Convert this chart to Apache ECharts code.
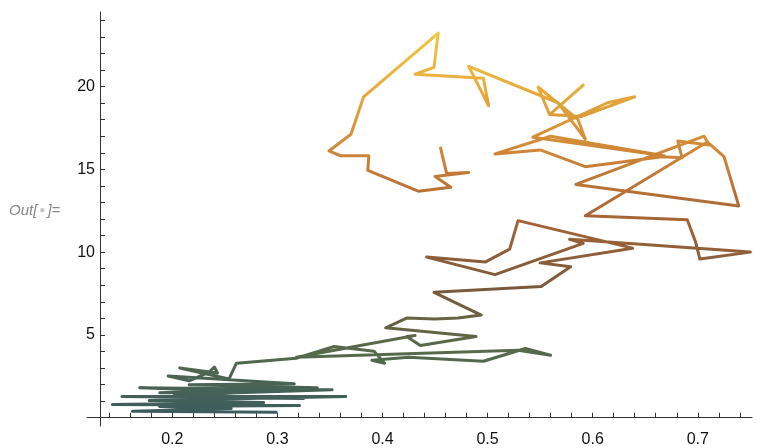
<!DOCTYPE html>
<html><head><meta charset="utf-8">
<script src="https://cdn.jsdelivr.net/npm/echarts@6/dist/echarts.min.js"></script>
<style>html,body{margin:0;padding:0;background:#fff}#c{width:760px;height:448px}</style>
</head><body><div id="c"></div>
<script>
const xs = [0.300,0.162,0.256,0.188,0.321,0.143,0.287,0.178,0.365,0.152,0.325,0.202,0.352,0.169,0.278,0.188,0.338,0.216,0.316,0.196,0.216,0.235,0.240,0.243,0.207,0.254,
0.261,0.318,0.354,0.392,0.402,0.390,0.425,0.496,0.536,0.560,0.529,0.318,0.384,0.431,0.423,0.436,0.489,0.403,0.423,0.450,0.472,0.494,0.449,
0.551,0.579,0.550,0.638,0.529,0.521,0.498,0.442,0.507,0.591,0.578,0.750,0.702,0.698,0.690,0.593,
0.709,0.725,0.739,0.584,0.706,0.711,0.681,0.685,0.666,0.593,0.550,0.507,0.560,0.668,0.543,0.614,0.640,0.589,0.559,0.591,0.559,0.548,0.586,0.593,0.567,
0.482,0.501,0.496,0.431,0.449,0.453,0.382,0.370,0.349,0.360,0.387,0.386,0.434,0.465,0.450,0.482,0.461,0.455];
const ys = [0.33,0.39,0.56,0.68,0.74,0.80,0.92,1.04,1.28,1.28,1.16,1.39,1.69,1.81,1.57,1.51,1.81,1.99,2.05,2.52,2.23,2.76,3.06,2.70,3.00,2.34,
3.29,3.59,4.30,4.01,3.29,3.47,3.65,3.41,4.18,3.77,4.07,3.65,4.42,4.96,4.90,4.36,4.90,5.43,6.02,5.96,6.02,6.20,7.57,
7.92,9.11,9.35,10.24,11.90,10.18,9.41,9.70,8.64,10.53,10.77,10.00,9.58,10.59,11.96,12.20,
16.65,15.76,12.79,14.09,17.00,16.47,16.71,15.70,15.76,15.16,16.17,15.93,17.00,15.82,16.94,19.02,19.38,18.19,18.31,20.09,18.31,19.97,18.01,16.82,19.02,
21.22,18.84,20.50,20.74,21.16,23.23,19.38,17.12,16.11,15.82,15.82,14.93,13.68,13.92,14.57,14.81,14.75,16.35];
const xTicks = [0.14,0.16,0.18,0.2,0.22,0.24,0.26,0.28,0.3,0.32,0.34,0.36,0.38,0.4,0.42,0.44,0.46,0.48,0.5,0.52,0.54,0.56,0.58,0.6,0.62,0.64,0.66,0.68,0.7,0.72,0.74];
const xLabels = [0.2,0.3,0.4,0.5,0.6,0.7];
const yTicks = [1,2,3,4,5,6,7,8,9,10,11,12,13,14,15,16,17,18,19,20,21,22,23,24];
const yLabels = [5,10,15,20];
const colorStops = ['#3b5b5f','#566a4b','#7a5a3b','#a36236','#cc8236','#e6a93a','#f4c842'];

const data = xs.map((x,i)=>[x, ys[i]]);
const chart = echarts.init(document.getElementById('c'), null, {renderer:'canvas'});
const lblFont = {fontFamily:'Liberation Sans, Arial, sans-serif', fontSize:16, color:'#111'};
chart.setOption({
  animation:false,
  grid:{left:87,right:8,top:12,bottom:16,containLabel:false},
  xAxis:{type:'value',min:0.1188,max:0.7516,
    axisLine:{onZero:true,lineStyle:{color:'#333',width:1}},
    axisTick:{inside:true,length:5,customValues:xTicks,lineStyle:{color:'#333'}},
    axisLabel:Object.assign({customValues:xLabels,margin:6,formatter:v=>String(+v.toFixed(2))},lblFont),
    splitLine:{show:false}},
  yAxis:{type:'value',min:-0.5,max:24.5,offset:-13,
    axisLine:{show:true,onZero:false,lineStyle:{color:'#333',width:1}},
    axisTick:{show:true,inside:true,length:5,customValues:yTicks,lineStyle:{color:'#333'}},
    axisLabel:Object.assign({customValues:yLabels,margin:5},lblFont),
    splitLine:{show:false}},
  visualMap:{show:false,type:'continuous',dimension:1,seriesIndex:0,min:0,max:23.5,inRange:{color:colorStops}},
  series:[{type:'line',data:data,showSymbol:false,symbol:'none',lineStyle:{width:3,join:'round'},clip:false}],
  graphic:[{type:'text',left:9,top:203,style:{
    text:'Out[{d|●}]=',
    font:'italic 15px Liberation Sans, Arial, sans-serif',
    fill:'#888',
    rich:{d:{fill:'#c4c4c4',fontSize:10,fontStyle:'normal',verticalAlign:'middle',padding:[0,2,0,2]}}
  }}]
});
</script></body></html>
